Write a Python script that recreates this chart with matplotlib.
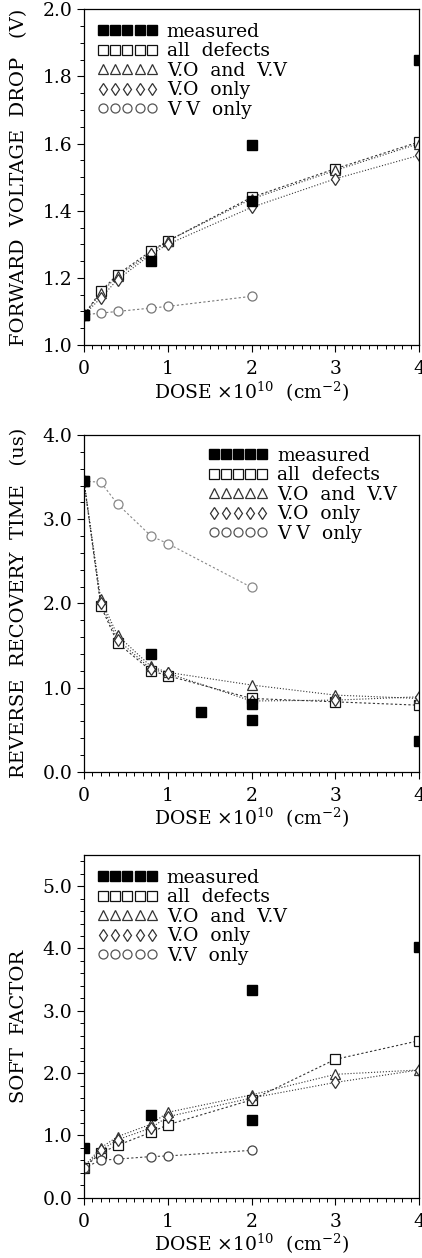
import matplotlib
matplotlib.use("Agg")
import matplotlib.pyplot as plt
from matplotlib.lines import Line2D
from matplotlib.ticker import MultipleLocator, FormatStrFormatter

plt.rcParams['font.family'] = ['DejaVu Serif']
plt.rcParams['mathtext.fontset'] = 'dejavuserif'

# ---------------- data ----------------
dose = [0, 0.2, 0.4, 0.8, 1, 2, 3, 4]
dose_vv = [0, 0.2, 0.4, 0.8, 1, 2]

# Forward voltage drop (V)
fvd_meas_x = [0, 0.8, 2, 2, 4]
fvd_meas_y = [1.09, 1.25, 1.43, 1.595, 1.85]
fvd_all = [1.09, 1.16, 1.21, 1.28, 1.31, 1.44, 1.525, 1.605]
fvd_vovv = [1.09, 1.155, 1.205, 1.275, 1.31, 1.435, 1.52, 1.60]
fvd_vo = [1.09, 1.14, 1.195, 1.27, 1.30, 1.41, 1.495, 1.565]
fvd_vv = [1.09, 1.095, 1.10, 1.11, 1.115, 1.145]

# Reverse recovery time (us)
rrt_meas_x = [0, 0.8, 1.4, 2, 2, 4]
rrt_meas_y = [3.45, 1.40, 0.71, 0.81, 0.61, 0.37]
rrt_all = [3.45, 1.97, 1.53, 1.20, 1.14, 0.87, 0.83, 0.79]
rrt_vovv = [3.45, 2.05, 1.62, 1.25, 1.18, 1.03, 0.91, 0.87]
rrt_vo = [3.45, 2.00, 1.57, 1.22, 1.17, 0.84, 0.85, 0.89]
rrt_vv = [3.45, 3.44, 3.18, 2.80, 2.71, 2.19]

# Soft factor
sf_meas_x = [0, 0.8, 2, 2, 4]
sf_meas_y = [0.79, 1.33, 3.34, 1.24, 4.02]
sf_all = [0.48, 0.72, 0.84, 1.05, 1.17, 1.57, 2.22, 2.52]
sf_vovv = [0.50, 0.80, 0.98, 1.18, 1.37, 1.65, 1.98, 2.05]
sf_vo = [0.48, 0.76, 0.93, 1.12, 1.30, 1.60, 1.85, 2.05]
sf_vv = [0.48, 0.60, 0.62, 0.66, 0.67, 0.76]

labels = ["measured", "all  defects", "V.O  and  V.V", "V.O  only", "V V  only"]
labels_sf = ["measured", "all  defects", "V.O  and  V.V", "V.O  only", "V.V  only"]

FS = 13.5
W, H = 422, 1258
fig = plt.figure(figsize=(W / 100, H / 100), dpi=100)

def box(x0, x1, ytop, ybot):
    return [x0 / W, 1 - ybot / H, (x1 - x0) / W, (ybot - ytop) / H]

ax1 = fig.add_axes(box(84, 419, 9.3, 345))
ax2 = fig.add_axes(box(84, 419, 435, 771.7))
ax3 = fig.add_axes(box(84, 419, 855, 1197.7))

mk = dict(ms=6.5, mfc='white', mew=0.9, ls='none')
lc = '#333333'

def draw(ax, mx, my, s_all, s_vovv, s_vo, s_vv, vvcol):
    ax.plot(dose, s_all, ls=(0, (2, 2)), color=lc, lw=0.8)
    ax.plot(dose, s_vovv, ls=':', color=lc, lw=0.8)
    ax.plot(dose, s_vo, ls=':', color=lc, lw=0.8)
    ax.plot(dose_vv, s_vv, ls=(0, (2, 2)), color=vvcol, lw=0.8)
    ax.plot(dose, s_all, marker='s', mec='#111111', **mk)
    ax.plot(dose, s_vovv, marker='^', mec='#333333', **mk)
    ax.plot(dose, s_vo, marker='d', mec='#333333', **mk)
    ax.plot(dose_vv, s_vv, marker='o', mec=vvcol, **mk)
    ax.plot(mx, my, marker='s', ls='none', ms=6.5, color='black')

def style(ax, ylim, major, minor, fmt, ylabel):
    ax.set_xlim(0, 4)
    ax.set_ylim(*ylim)
    ax.xaxis.set_major_locator(MultipleLocator(1))
    ax.xaxis.set_minor_locator(MultipleLocator(0.1))
    ax.yaxis.set_major_locator(MultipleLocator(major))
    ax.yaxis.set_minor_locator(MultipleLocator(minor))
    ax.yaxis.set_major_formatter(FormatStrFormatter(fmt))
    ax.tick_params(which='major', direction='out', length=5, width=0.8, labelsize=FS)
    ax.tick_params(which='minor', direction='out', length=3, width=0.7)
    ax.tick_params(axis='x', pad=6)
    for sp in ax.spines.values():
        sp.set_linewidth(0.9)
    ax.set_xlabel(r"DOSE $\times 10^{10}$  (cm$^{-2}$)", fontsize=FS, labelpad=1)
    ax.set_ylabel(ylabel, fontsize=14, labelpad=10)

def legend(ax, lbls, anchor):
    hs = [Line2D([], [], marker='s', ls='none', ms=6.5, color='black'),
          Line2D([], [], marker='s', ls='none', ms=6.5, mfc='white', mec='#111111', mew=0.9),
          Line2D([], [], marker='^', ls='none', ms=6.5, mfc='white', mec='#333333', mew=0.9),
          Line2D([], [], marker='d', ls='none', ms=6.5, mfc='white', mec='#333333', mew=0.9),
          Line2D([], [], marker='o', ls='none', ms=6.5, mfc='white', mec='#555555', mew=0.9)]
    ax.legend(hs, lbls, loc='upper left', bbox_to_anchor=anchor, frameon=False,
              numpoints=5, handlelength=3.2, handletextpad=0.5, labelspacing=0.08,
              borderpad=0, borderaxespad=0, fontsize=FS)

draw(ax1, fvd_meas_x, fvd_meas_y, fvd_all, fvd_vovv, fvd_vo, fvd_vv, '#777777')
style(ax1, (1.0, 2.0), 0.2, 0.05, '%.1f', "FORWARD  VOLTAGE  DROP   (V)")
legend(ax1, labels, (0.04, 0.96))

draw(ax2, rrt_meas_x, rrt_meas_y, rrt_all, rrt_vovv, rrt_vo, rrt_vv, '#888888')
style(ax2, (0.0, 4.0), 1.0, 0.2, '%.1f', "REVERSE  RECOVERY  TIME   (us)")
legend(ax2, labels, (0.37, 0.965))

draw(ax3, sf_meas_x, sf_meas_y, sf_all, sf_vovv, sf_vo, sf_vv, '#444444')
style(ax3, (0.0, 5.5), 1.0, 0.2, '%.1f', "SOFT  FACTOR")
legend(ax3, labels_sf, (0.04, 0.96))

fig.savefig("out.png", dpi=100)
